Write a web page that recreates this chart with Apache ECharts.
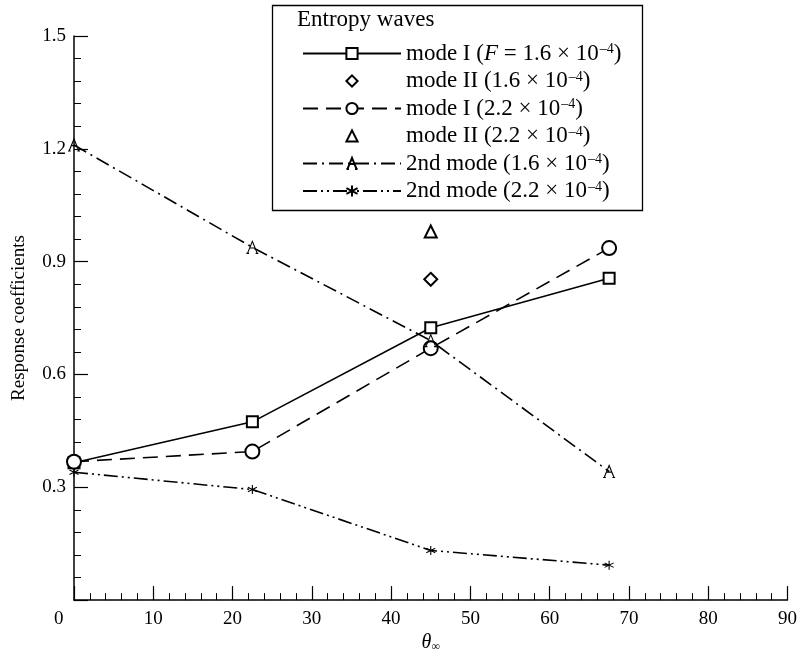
<!DOCTYPE html>
<html>
<head>
<meta charset="utf-8">
<script src="https://cdn.jsdelivr.net/npm/echarts@6/dist/echarts.min.js"></script>
<style>
html,body{margin:0;padding:0;background:#fff;}
#c{width:800px;height:658px;}
</style>
</head>
<body>
<div id="c"></div>
<script>
// ---- data ----
const thetaValues = [0, 22.5, 45, 67.5];
const modeI_16 = [0.365, 0.474, 0.724, 0.856];
const modeII_16_x = [45];
const modeII_16 = [0.853];
const modeI_22 = [0.368, 0.395, 0.670, 0.936];
const modeII_22_x = [45];
const modeII_22 = [0.98];
const second_16 = [1.21, 0.938, 0.69, 0.342];
const second_22 = [0.34, 0.294, 0.132, 0.093];
const xTicks = [0, 10, 20, 30, 40, 50, 60, 70, 80, 90];
const yTicks = [0, 0.3, 0.6, 0.9, 1.2, 1.5];
const legendNames = [
  'mode I (F = 1.6e-4)',
  'mode II (1.6e-4)',
  'mode I (2.2e-4)',
  'mode II (2.2e-4)',
  '2nd mode (1.6e-4)',
  '2nd mode (2.2e-4)'
];

const FONT = '"Liberation Serif", "Times New Roman", serif';
const pair = (xs, ys) => xs.map((x, i) => [x, ys[i]]);

const pathA = 'path://M0,20 L9,0 L18,20 M4.5,11 L13.5,11 M-2,20 L3,20 M15,20 L20,20';
const pathStar = 'path://M10,0 L10,20 M1.3,5 L18.7,15 M1.3,15 L18.7,5';

const legendRich = {
  a: {fontFamily: FONT, fontSize: 23, color: '#000', lineHeight: 22},
  i: {fontFamily: FONT, fontSize: 23, fontStyle: 'italic', color: '#000', lineHeight: 22},
  s: {fontFamily: FONT, fontSize: 14, color: '#000', lineHeight: 22, verticalAlign: 'top', padding: [0, 0, 0, 1]}
};
function legendFmt(name) {
  const m = name.match(/^(.*)\((F = )?([0-9.]+)e(-\d)\)$/);
  if (!m) return '{a|' + name + '}';
  let s = '{a|' + m[1] + '(}';
  if (m[2]) s += '{i|F}{a| = }';
  s += '{a|' + m[3] + ' × 10}{s|' + m[4].replace('-', '–') + '}{a|)}';
  return s;
}

const base = {
  type: 'line',
  clip: false,
  silent: true,
  animation: false,
  color: '#000'
};

const option = {
  animation: false,
  backgroundColor: '#fff',
  grid: {left: 74, right: 11, top: 36, bottom: 56, containLabel: false},
  xAxis: {
    type: 'value', min: 0, max: 90, interval: 10,
    axisLine: {lineStyle: {color: '#000', width: 1.5}},
    axisTick: {inside: true, length: 14, lineStyle: {color: '#000', width: 1.2}},
    minorTick: {show: true, splitNumber: 5, length: 7, lineStyle: {color: '#000', width: 1}},
    splitLine: {show: false},
    axisLabel: {
      color: '#000', fontFamily: FONT, fontSize: 19, margin: 9,
      formatter: v => (v === 0 ? '' : String(v))
    },
    name: '{t|θ}{s|∞}', nameLocation: 'middle', nameGap: 30,
    nameTextStyle: {
      rich: {
        t: {fontFamily: FONT, fontSize: 20, fontStyle: 'italic', color: '#000'},
        s: {fontFamily: FONT, fontSize: 12, color: '#000', verticalAlign: 'bottom', padding: [8, 0, 0, 0]}
      }
    }
  },
  yAxis: {
    type: 'value', min: 0, max: 1.5, interval: 0.3,
    axisLine: {show: true, lineStyle: {color: '#000', width: 1.5}},
    axisTick: {show: true, inside: true, length: 14, lineStyle: {color: '#000', width: 1.2}},
    minorTick: {show: true, splitNumber: 5, length: 7, lineStyle: {color: '#000', width: 1}},
    splitLine: {show: false},
    axisLabel: {
      color: '#000', fontFamily: FONT, fontSize: 19, margin: 8,
      formatter: v => (v === 0 ? '' : v.toFixed(1))
    },
    name: 'Response coefficients', nameLocation: 'middle', nameGap: 45,
    nameTextStyle: {fontFamily: FONT, fontSize: 19, color: '#000'}
  },
  legend: {
    orient: 'vertical', left: 297, top: 37,
    itemWidth: 98, itemHeight: 14, itemGap: 4.5,
    selectedMode: false,
    data: legendNames,
    formatter: legendFmt,
    textStyle: {rich: legendRich}
  },
  graphic: [
    {type: 'rect', left: 270, top: 3, shape: {width: 370, height: 205},
     style: {fill: 'none', stroke: '#000', lineWidth: 1.3}, z: -1},
    {type: 'text', left: 297, top: 8,
     style: {text: 'Entropy waves', font: '23px ' + FONT, fill: '#000'}},
    {type: 'text', left: 54, top: 610,
     style: {text: '0', font: '19px ' + FONT, fill: '#000'}}
  ],
  series: [
    Object.assign({}, base, {
      name: legendNames[0], data: pair(thetaValues, modeI_16),
      symbol: 'emptyRect', symbolSize: 11,
      lineStyle: {color: '#000', width: 1.6, type: 'solid'},
      itemStyle: {color: '#000', borderColor: '#000', borderWidth: 1.6}
    }),
    Object.assign({}, base, {
      name: legendNames[1], data: pair(modeII_16_x, modeII_16),
      symbol: 'emptyDiamond', symbolSize: 13,
      lineStyle: {color: '#000', width: 0, opacity: 0},
      itemStyle: {color: '#000', borderColor: '#000', borderWidth: 1.6}
    }),
    Object.assign({}, base, {
      name: legendNames[2], data: pair(thetaValues, modeI_22),
      symbol: 'emptyCircle', symbolSize: 14,
      lineStyle: {color: '#000', width: 1.6, type: [15, 8]},
      itemStyle: {color: '#000', borderColor: '#000', borderWidth: 1.6}
    }),
    Object.assign({}, base, {
      name: legendNames[3], data: pair(modeII_22_x, modeII_22),
      symbol: 'emptyTriangle', symbolSize: 12,
      lineStyle: {color: '#000', width: 0, opacity: 0},
      itemStyle: {color: '#000', borderColor: '#000', borderWidth: 1.6}
    }),
    Object.assign({}, base, {
      name: legendNames[4], data: pair(thetaValues, second_16),
      symbol: pathA, symbolSize: [12, 12],
      lineStyle: {color: '#000', width: 1.6, type: [14, 5, 2, 5]},
      itemStyle: {color: 'rgba(0,0,0,0)', borderColor: '#000', borderWidth: 1.1}
    }),
    Object.assign({}, base, {
      name: legendNames[5], data: pair(thetaValues, second_22),
      symbol: pathStar, symbolSize: [9, 9],
      lineStyle: {color: '#000', width: 1.6, type: [14, 4, 2, 4, 2, 4]},
      itemStyle: {color: 'rgba(0,0,0,0)', borderColor: '#000', borderWidth: 1.1}
    })
  ]
};

const chart = echarts.init(document.getElementById('c'), null, {renderer: 'canvas'});
chart.setOption(option);
</script>
</body>
</html>
